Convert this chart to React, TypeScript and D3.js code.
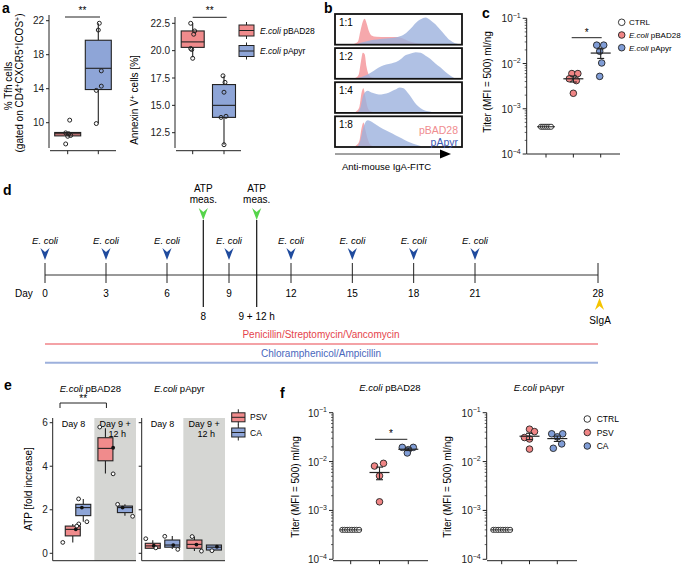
import React from 'react';
import * as d3 from 'd3';

const FONT = "'Liberation Sans', Arial, Helvetica, sans-serif";
const INK = '#222';
const RED_FILL = '#f08b8c';
const BLUE_FILL = '#8ea5d7';
const RED_DOT = '#f08585';
const BLUE_DOT = '#809dd6';
const HIST_RED = '#f59ea3';
const HIST_BLUE = '#9cb1dd';

// ---------------- panel a ----------------
const aGroups = ['E.coli pBAD28', 'E.coli pApyr'];
const aTfhTicks = [10, 14, 18, 22];
// [lo, q1, median, q3, hi]
const aTfhBox = [[8.45, 8.45, 8.7, 8.85, 8.85], [9.9, 13.9, 16.4, 19.7, 21.7]];
const aTfhPoints = [[10.3, 8.8, 8.7, 8.5, 8.4, 7.5], [21.7, 20.9, 16.1, 14.3, 13.8, 9.9]];
const aTfhJitter = [[2, -2, 1, 3, 0, -2], [1, 0, 3, 3, -2, -2]];
const aAnxTicks = [12.5, 15, 17.5, 20, 22.5];
const aAnxBox = [[19.4, 20.3, 20.8, 21.8, 22.5], [11.4, 13.9, 15.0, 16.9, 17.7]];
const aAnxPoints = [[22.5, 21.8, 21.5, 20.2, 20.1, 19.3], [17.7, 17.1, 16.2, 14.0, 13.9, 11.4]];
const aAnxJitter = [[-2, 2, 1, -2, -1, 0], [-1, 1, 0, 2, -3, 0]];

// ---------------- panel b ----------------
const bDilutions = ['1:1', '1:2', '1:4', '1:8'];
// [fluorescence (a.u.), relative count]
const bRed = [
  [[14, 0], [17, 0.08], [19, 0.45], [21, 0.8], [22.5, 0.9], [24, 0.75], [26, 0.45], [28, 0.3], [32, 0.25], [40, 0.24], [48, 0.24], [53, 0.2], [58, 0.1], [63, 0.03], [68, 0]],
  [[15, 0], [17.5, 0.1], [19.5, 0.6], [21, 0.9], [22.5, 0.85], [24, 0.4], [26, 0.1], [28, 0.02], [30, 0]],
  [[15, 0], [18, 0.15], [20, 0.7], [21.5, 0.85], [23, 0.55], [25, 0.15], [27, 0.03], [29, 0]],
  [[15, 0], [18, 0.15], [20, 0.65], [21.5, 0.85], [23, 0.6], [25, 0.25], [27, 0.05], [29, 0]],
];
const bBlue = [
  [[17, 0], [20, 0.04], [25, 0.1], [30, 0.14], [35, 0.17], [40, 0.19], [45, 0.21], [50, 0.25], [55, 0.35], [60, 0.55], [64, 0.75], [68, 0.88], [72, 0.95], [76, 0.85], [80, 0.7], [84, 0.5], [88, 0.3], [92, 0.12], [96, 0.02], [98, 0]],
  [[17, 0], [20, 0.03], [24, 0.1], [28, 0.2], [32, 0.32], [36, 0.42], [40, 0.48], [44, 0.52], [48, 0.57], [52, 0.68], [56, 0.82], [60, 0.88], [64, 0.92], [68, 0.9], [72, 0.8], [76, 0.68], [80, 0.52], [84, 0.38], [88, 0.22], [92, 0.08], [95, 0]],
  [[17, 0], [19, 0.15], [21, 0.55], [23, 0.72], [25, 0.76], [28, 0.7], [32, 0.65], [36, 0.63], [40, 0.66], [44, 0.74], [48, 0.82], [51, 0.88], [54, 0.85], [57, 0.72], [60, 0.55], [63, 0.35], [66, 0.2], [70, 0.08], [74, 0.02], [77, 0]],
  [[17, 0], [19, 0.2], [21, 0.6], [23, 0.85], [25, 0.93], [27, 0.9], [30, 0.82], [35, 0.68], [40, 0.56], [45, 0.45], [50, 0.33], [55, 0.22], [60, 0.12], [64, 0.05], [68, 0]],
];

// ---------------- panel c ----------------
const cGroups = ['CTRL', 'E.coli pBAD28', 'E.coli pApyr'];
const cCtrl = [4e-4, 4e-4, 4e-4, 4e-4, 4e-4, 4e-4];
const cRed = [6.0e-3, 6.0e-3, 4.6e-3, 4.2e-3, 2.2e-3];
const cRedJit = [-1.5, 4.5, -4, 3, 0];
const cBlue = [2.55e-2, 2.55e-2, 1.87e-2, 1.03e-2, 5.2e-3];
const cBlueJit = [-4, 3, -1, 1, -1];

// ---------------- panel d ----------------
const dDays = [0, 3, 6, 9, 12, 15, 18, 21, 28];
const dEcoliDays = [0, 3, 6, 9, 12, 15, 18, 21];
const dAtpDays = [8, 9.5];
const dAtpLabels = ['8', '9 + 12 h'];
const dSigaDay = 28;
const dTreatments = ['Penicillin/Streptomycin/Vancomycin', 'Chloramphenicol/Ampicillin'];

// ---------------- panel e ----------------
const eStrains = ['E.coli pBAD28', 'E.coli pApyr'];
const eDays = ['Day 8', 'Day 9 + 12 h'];
const eTreat = ['PSV', 'CA'];
const eTicks = [0, 2, 4, 6];
// order: Day8 PSV, Day8 CA, Day9 PSV, Day9 CA ; [lo,q1,med,q3,hi]
const eBoxPBAD = [[0.5, 0.8, 1.1, 1.25, 1.35], [1.45, 1.73, 2.1, 2.25, 2.5], [3.67, 4.25, 4.82, 5.31, 5.74], [1.72, 1.87, 2.1, 2.17, 2.25]];
const eBoxPApyr = [[0.23, 0.23, 0.34, 0.46, 0.6], [0.2, 0.28, 0.38, 0.61, 0.8], [0.1, 0.23, 0.41, 0.61, 0.77], [0.12, 0.15, 0.28, 0.38, 0.38]];
const ePtsPBAD = [[1.35, 1.25, 0.5], [2.5, 1.45], [5.8, 3.65], [2.25, 1.7]];
const eJitPBAD = [[6, 4, -10], [-4.7, 3.6], [-5.7, 7.7], [-7.3, 7.7]];
const eMeanPBAD = [1.1, 2.1, 4.85, 2.1];
const eMeanJitPBAD = [3, -1.4, 7.7, -2.3];
const ePtsPApyr = [[0.67, 0.25], [0.78, 0.18], [0.77, 0.1], [0.12]];
const eJitPApyr = [[-7, 3], [-7.5, 5.5], [-2.3, 7], [-2]];
const eMeanPApyr = [0.35, 0.38, 0.4, 0.3];
const eMeanJitPApyr = [1, 1, 2, 3];

// ---------------- panel f ----------------
const fGroups = ['CTRL', 'PSV', 'CA'];
const fTitles = ['E.coli pBAD28', 'E.coli pApyr'];
const fCtrl = [4e-4, 4e-4, 4e-4, 4e-4, 4e-4, 4e-4, 4e-4, 4e-4];
const fPsvLeft = [8.1e-3, 9.2e-3, 5.1e-3, 1.5e-3];
const fPsvLeftJit = [-5, 4, 0, 0];
const fCaLeft = [1.95e-2, 1.95e-2, 1.75e-2, 1.5e-2];
const fCaLeftJit = [-6, 5, 0, -1];
const fPsvRight = [4.6e-2, 4.1e-2, 3.1e-2, 2.9e-2, 1.8e-2];
const fPsvRightJit = [0, 5, -5, 0, 0];
const fCaRight = [3.7e-2, 3.7e-2, 3.2e-2, 2.3e-2, 1.87e-2];
const fCaRightJit = [-5.6, 5.4, 0, 4.4, -4];

// layout nudge (px) of individual boxes in panel e, as drawn in the original
const E_NUDGE = [[9, 0, 0, 0], [0, 0, 0, 0]];

// ---------------- helpers ----------------
function StrainText({ name, ...props }: any) {
  if (name.startsWith('E.coli')) {
    const rest = name.slice(6);
    return (
      <text {...props}>
        <tspan fontStyle="italic">E.coli</tspan>
        {rest}
      </text>
    );
  }
  return <text {...props}>{name}</text>;
}

function BoxGlyph({ cx, w, y, b, fill }: any) {
  const [lo, q1, med, q3, hi] = b;
  return (
    <g>
      <line x1={cx} x2={cx} y1={y(hi)} y2={y(q3)} stroke={INK} strokeWidth={1.1} />
      <line x1={cx} x2={cx} y1={y(q1)} y2={y(lo)} stroke={INK} strokeWidth={1.1} />
      <rect x={cx - w / 2} y={y(q3)} width={w} height={Math.max(1.5, y(q1) - y(q3))} fill={fill} stroke={INK} strokeWidth={1.1} />
      <line x1={cx - w / 2} x2={cx + w / 2} y1={y(med)} y2={y(med)} stroke={INK} strokeWidth={1.1} />
    </g>
  );
}

function LinAxisY({ x, y, ticks, y0, y1, labels = true, fmt = (d: number) => String(d) }: any) {
  return (
    <g>
      <line x1={x} x2={x} y1={y0} y2={y1} stroke={INK} strokeWidth={1} />
      {ticks.map((t: number) => (
        <g key={t}>
          <line x1={x - 3} x2={x} y1={y(t)} y2={y(t)} stroke={INK} strokeWidth={1} />
          {labels && (
            <text x={x - 5} y={y(t) + 3.5} textAnchor="end" fontSize={10} fill={INK}>
              {fmt(t)}
            </text>
          )}
        </g>
      ))}
    </g>
  );
}

function LogAxisY({ x, y }: any) {
  const majors = [1e-4, 1e-3, 1e-2, 1e-1];
  const minors: number[] = [];
  for (let k = -4; k <= -2; k++) for (let m = 2; m < 10; m++) minors.push(m * Math.pow(10, k));
  return (
    <g>
      <line x1={x} x2={x} y1={y(1e-1)} y2={y(1e-4)} stroke={INK} strokeWidth={1} />
      {minors.map((t, i) => (
        <line key={i} x1={x - 2} x2={x} y1={y(t)} y2={y(t)} stroke={INK} strokeWidth={0.7} />
      ))}
      {majors.map((t) => (
        <g key={t}>
          <line x1={x - 4} x2={x} y1={y(t)} y2={y(t)} stroke={INK} strokeWidth={1} />
          <text x={x - 6} y={y(t) + 4} textAnchor="end" fontSize={10} fill={INK}>
            10
            <tspan dy={-4.5} fontSize={7}>
              {'\u2212' + Math.round(-Math.log10(t))}
            </tspan>
          </text>
        </g>
      ))}
    </g>
  );
}

function XAxisTicks({ x0, x1, y, xs }: any) {
  return (
    <g>
      <line x1={x0} x2={x1} y1={y} y2={y} stroke={INK} strokeWidth={1} />
      {xs.map((v: number, i: number) => (
        <line key={i} x1={v} x2={v} y1={y} y2={y + 3.5} stroke={INK} strokeWidth={1} />
      ))}
    </g>
  );
}

function DotGroup({ cx, vals, offs, y, fill, r = 3.3, meanW = 10 }: any) {
  const m = d3.mean(vals) as number;
  const sd = vals.length > 1 ? (d3.deviation(vals) as number) : 0;
  const se = sd / Math.sqrt(vals.length);
  return (
    <g>
      {vals.map((v: number, i: number) => (
        <circle key={i} cx={cx + offs[i]} cy={y(v)} r={r} fill={fill} stroke={INK} strokeWidth={0.9} />
      ))}
      <line x1={cx - meanW} x2={cx + meanW} y1={y(m)} y2={y(m)} stroke={INK} strokeWidth={1.2} />
      {se > 0 && (
        <g stroke={INK} strokeWidth={1.1}>
          <line x1={cx} x2={cx} y1={y(m + se)} y2={y(m - se)} />
          <line x1={cx - 3.5} x2={cx + 3.5} y1={y(m + se)} y2={y(m + se)} />
          <line x1={cx - 3.5} x2={cx + 3.5} y1={y(m - se)} y2={y(m - se)} />
        </g>
      )}
    </g>
  );
}

function CtrlRow({ cx, vals, y, step, meanW }: any) {
  const n = vals.length;
  const m = d3.mean(vals) as number;
  return (
    <g>
      {vals.map((v: number, i: number) => (
        <circle key={i} cx={cx + (i - (n - 1) / 2) * step} cy={y(v)} r={2.6} fill="#fff" stroke={INK} strokeWidth={0.9} />
      ))}
      <line x1={cx - meanW} x2={cx + meanW} y1={y(m)} y2={y(m)} stroke={INK} strokeWidth={1} />
    </g>
  );
}

function PanelLabel({ x, y, t }: any) {
  return (
    <text x={x} y={y} fontSize={14} fontWeight="bold" fill="#000">
      {t}
    </text>
  );
}

// ---------------- panels ----------------
function PanelA() {
  const yT = d3.scaleLinear().domain([10, 22]).range([122.7, 20.7]);
  const xT = d3.scalePoint<string>().domain(aGroups).range([67.7, 98.3]);
  const yA = d3.scaleLinear().domain([12.5, 22.5]).range([132.7, 23.3]);
  const xA = d3.scalePoint<string>().domain(aGroups).range([192.7, 224]);
  const fills = [RED_FILL, BLUE_FILL];
  return (
    <g>
      <PanelLabel x={2} y={13} t="a" />
      {/* Tfh */}
      <LinAxisY x={49} y={yT} ticks={aTfhTicks} y0={15} y1={148} />
      <XAxisTicks x0={50} x1={116} y={150.7} xs={aGroups.map((g) => xT(g))} />
      {aGroups.map((g, i) => (
        <BoxGlyph key={g} cx={xT(g)} w={26} y={yT} b={aTfhBox[i]} fill={fills[i]} />
      ))}
      {aGroups.map((g, i) =>
        aTfhPoints[i].map((v, j) => (
          <circle key={g + j} cx={(xT(g) as number) + aTfhJitter[i][j]} cy={yT(v)} r={2} fill="none" stroke={INK} strokeWidth={1} />
        ))
      )}
      <line x1={65} x2={100} y1={17} y2={17} stroke={INK} />
      <text x={82.5} y={14} textAnchor="middle" fontSize={10}>**</text>
      <text transform="translate(12,86) rotate(-90)" textAnchor="middle" fontSize={10}>
        % Tfh cells
      </text>
      <text transform="translate(23,83) rotate(-90)" textAnchor="middle" fontSize={10}>
        (gated on CD4<tspan dy={-3.5} fontSize={7}>+</tspan>
        <tspan dy={3.5}>CXCR5</tspan>
        <tspan dy={-3.5} fontSize={7}>+</tspan>
        <tspan dy={3.5}>ICOS</tspan>
        <tspan dy={-3.5} fontSize={7}>+</tspan>
        <tspan dy={3.5}>)</tspan>
      </text>

      {/* Annexin */}
      <LinAxisY x={175} y={yA} ticks={aAnxTicks} y0={17} y1={148} fmt={(d: number) => d.toFixed(1)} />
      <XAxisTicks x0={176} x1={241} y={150.7} xs={aGroups.map((g) => xA(g))} />
      {aGroups.map((g, i) => (
        <BoxGlyph key={g} cx={xA(g)} w={23} y={yA} b={aAnxBox[i]} fill={fills[i]} />
      ))}
      {aGroups.map((g, i) =>
        aAnxPoints[i].map((v, j) => (
          <circle key={g + j} cx={(xA(g) as number) + aAnxJitter[i][j]} cy={yA(v)} r={2} fill="none" stroke={INK} strokeWidth={1} />
        ))
      )}
      <line x1={192.7} x2={226.7} y1={17.3} y2={17.3} stroke={INK} />
      <text x={209.7} y={14} textAnchor="middle" fontSize={10}>**</text>
      <text transform="translate(138,100) rotate(-90)" textAnchor="middle" fontSize={10}>
        Annexin V<tspan dy={-3.5} fontSize={7}>+</tspan>
        <tspan dy={3.5}> cells [%]</tspan>
      </text>

      {/* legend */}
      {aGroups.map((g, i) => {
        const cy = 30.5 + i * 20.5;
        return (
          <g key={g}>
            <line x1={246.5} x2={246.5} y1={cy - 8.5} y2={cy + 8.5} stroke={INK} />
            <rect x={239} y={cy - 5.5} width={15} height={11} fill={fills[i]} stroke={INK} strokeWidth={1} />
            <line x1={239} x2={254} y1={cy} y2={cy} stroke={INK} />
            <StrainText name={g} x={260} y={cy + 3} fontSize={8.5} />
          </g>
        );
      })}
    </g>
  );
}

function PanelB() {
  const x = d3.scaleLinear().domain([0, 100]).range([337, 460]);
  const band = d3.scaleBand<string>().domain(bDilutions).range([14, 147]).paddingInner(0.1);
  const bw = band.bandwidth();
  return (
    <g>
      <PanelLabel x={324} y={12.5} t="b" />
      <defs>
        {bDilutions.map((d, i) => (
          <clipPath key={d} id={'bclip' + i}>
            <rect x={335} y={band(d)} width={127} height={bw} />
          </clipPath>
        ))}
      </defs>
      {bDilutions.map((d, i) => {
        const top = band(d) as number;
        const yy = d3.scaleLinear().domain([0, 1]).range([top + bw - 1, top + 2]);
        const area = d3
          .area<number[]>()
          .x((p) => x(p[0]))
          .y0(top + bw)
          .y1((p) => yy(p[1]))
          .curve(d3.curveMonotoneX);
        return (
          <g key={d}>
            <g clipPath={`url(#bclip${i})`}>
              <path d={area(bRed[i]) as string} fill={HIST_RED} fillOpacity={0.9} />
              <path d={area(bBlue[i]) as string} fill={HIST_BLUE} fillOpacity={0.8} />
            </g>
            <rect x={335} y={top} width={127} height={bw} fill="none" stroke="#111" strokeWidth={1.8} />
            <text x={339} y={top + 12} fontSize={10}>{d}</text>
          </g>
        );
      })}
      <text x={458} y={134} textAnchor="end" fontSize={10.5} fill="#f08c8f">pBAD28</text>
      <text x={458} y={145.5} textAnchor="end" fontSize={10.5} fill="#3d59b3">pApyr</text>
      <line x1={335} x2={442} y1={154} y2={154} stroke="#444" strokeWidth={1} />
      <path d="M440,149.5 L451,154 L440,158.5 Z" fill="#000" />
      <text x={342} y={170} fontSize={9.5}>Anti-mouse IgA-FITC</text>
    </g>
  );
}

function PanelC() {
  const y = d3.scaleLog().domain([1e-4, 1e-1]).range([154, 18.3]);
  const x = d3.scalePoint<string>().domain(cGroups).range([546, 600.7]);
  const legendFill = ['#fff', RED_DOT, BLUE_DOT];
  return (
    <g>
      <PanelLabel x={482} y={18} t="c" />
      <LogAxisY x={526.7} y={y} />
      <XAxisTicks x0={527} x1={620} y={154} xs={cGroups.map((g) => x(g))} />
      <CtrlRow cx={x('CTRL')} vals={cCtrl} y={y} step={2} meanW={9} />
      <DotGroup cx={x(cGroups[1])} vals={cRed} offs={cRedJit} y={y} fill={RED_DOT} />
      <DotGroup cx={x(cGroups[2])} vals={cBlue} offs={cBlueJit} y={y} fill={BLUE_DOT} />
      <line x1={571.7} x2={601.7} y1={37.7} y2={37.7} stroke={INK} />
      <text x={586.7} y={35.5} textAnchor="middle" fontSize={10}>*</text>
      <text transform="translate(491,82) rotate(-90)" textAnchor="middle" fontSize={10}>
        Titer (MFI = 500) ml/ng
      </text>
      {cGroups.map((g, i) => (
        <g key={g}>
          <circle cx={621.7} cy={22.3 + i * 12.7} r={3.3} fill={legendFill[i]} stroke={INK} strokeWidth={0.9} />
          <StrainText name={g} x={629} y={22.3 + i * 12.7 + 3} fontSize={8} />
        </g>
      ))}
    </g>
  );
}

function Chevron({ x, y, fill, up = false }: any) {
  // tip at (x, y); height 12
  const d = up
    ? `M${x},${y} L${x + 4.6},${y + 12} L${x},${y + 8} L${x - 4.6},${y + 12} Z`
    : `M${x},${y} L${x + 4.6},${y - 12} L${x},${y - 8} L${x - 4.6},${y - 12} Z`;
  return <path d={d} fill={fill} />;
}

function PanelD() {
  const x = d3
    .scaleLinear()
    .domain([0, 6, 8, 9, 9.5, 12, 21, 28])
    .range([45, 167, 203.3, 229, 256.7, 291, 475, 598]);
  const lineY = 275;
  const trColors = ['#e5434b', '#4a68bd'];
  const lineColors = ['#f4a2a6', '#9db0dc'];
  return (
    <g>
      <PanelLabel x={3} y={195} t="d" />
      <line x1={x(0)} x2={x(28)} y1={lineY} y2={lineY} stroke="#333" strokeWidth={1} />
      {dDays.map((d) => (
        <g key={d}>
          <line x1={x(d)} x2={x(d)} y1={263} y2={283} stroke="#222" strokeWidth={1} />
          <text x={x(d)} y={297} textAnchor="middle" fontSize={10}>{d}</text>
        </g>
      ))}
      <text x={15} y={297} fontSize={10}>Day</text>
      {dEcoliDays.map((d) => (
        <g key={d}>
          <text x={x(d)} y={243.5} textAnchor="middle" fontSize={9.5} fontStyle="italic">E. coli</text>
          <Chevron x={x(d)} y={260} fill="#1f4b9e" />
        </g>
      ))}
      {dAtpDays.map((d, i) => (
        <g key={d}>
          <line x1={x(d)} x2={x(d)} y1={220} y2={307} stroke="#111" strokeWidth={1.2} />
          <Chevron x={x(d)} y={220} fill="#55d44a" />
          <text x={x(d)} y={191.5} textAnchor="middle" fontSize={10}>ATP</text>
          <text x={x(d)} y={203.3} textAnchor="middle" fontSize={10}>meas.</text>
          <text x={x(d)} y={320} textAnchor="middle" fontSize={10}>{dAtpLabels[i]}</text>
        </g>
      ))}
      <Chevron x={x(dSigaDay) + 1.5} y={298} fill="#f5c400" up />
      <text x={x(dSigaDay) + 2} y={324} textAnchor="middle" fontSize={10}>SIgA</text>
      {dTreatments.map((t, i) => (
        <g key={t}>
          <text x={321} y={338.3 + i * 19} textAnchor="middle" fontSize={10} fill={trColors[i]}>{t}</text>
          <line x1={x(0)} x2={x(28)} y1={344 + i * 18.7} y2={344 + i * 18.7} stroke={lineColors[i]} strokeWidth={2} />
        </g>
      ))}
    </g>
  );
}

function PanelE() {
  const y = d3.scaleLinear().domain([0, 6]).range([553.3, 422.7]);
  const sx = d3.scaleBand<string>().domain(eStrains).range([52.7, 225]).paddingInner(0.064);
  const bw = sx.bandwidth();
  const dx = d3.scaleBand<string>().domain(eDays).range([0, bw]);
  const tx = d3.scalePoint<string>().domain(eTreat).range([-9.75, 9.75]);
  const top = 418;
  const bottom = 560.7;
  const boxes = [eBoxPBAD, eBoxPApyr];
  const pts = [ePtsPBAD, ePtsPApyr];
  const jit = [eJitPBAD, eJitPApyr];
  const means = [eMeanPBAD, eMeanPApyr];
  const meanJit = [eMeanJitPBAD, eMeanJitPApyr];
  const fills = [RED_FILL, BLUE_FILL];
  const cx = (s: string, d: string, t: string) =>
    (sx(s) as number) + (dx(d) as number) + dx.bandwidth() / 2 + (tx(t) as number);
  return (
    <g>
      <PanelLabel x={4} y={390} t="e" />
      {eStrains.map((s, si) => {
        const x0 = sx(s) as number;
        return (
          <g key={s}>
            <rect x={x0 + (dx(eDays[1]) as number)} y={top} width={dx.bandwidth()} height={bottom - top} fill="#d5d6d3" />
            <LinAxisY x={x0} y={y} ticks={eTicks} y0={top} y1={bottom} labels={si === 0} />
            <line x1={x0} x2={x0 + bw} y1={bottom} y2={bottom} stroke={INK} />
            <StrainText name={s} x={x0 + bw / 2 - 4} y={391.5} textAnchor="middle" fontSize={9.5} />
            <text x={x0 + (dx(eDays[0]) as number) + dx.bandwidth() / 2} y={427.3} textAnchor="middle" fontSize={9}>Day 8</text>
            <text x={x0 + (dx(eDays[1]) as number) + dx.bandwidth() / 2} y={427.3} textAnchor="middle" fontSize={9}>Day 9 +</text>
            <text x={x0 + (dx(eDays[1]) as number) + dx.bandwidth() / 2 + 2} y={437} textAnchor="middle" fontSize={9}>12 h</text>
            {eDays.map((d, di) =>
              eTreat.map((t, ti) => {
                const k = di * 2 + ti;
                const c = cx(s, d, t) + E_NUDGE[si][k];
                return (
                  <g key={d + t}>
                    <BoxGlyph cx={c} w={15} y={y} b={boxes[si][k]} fill={fills[ti]} />
                    {pts[si][k].map((v: number, j: number) => (
                      <circle key={j} cx={c + jit[si][k][j]} cy={y(v)} r={1.9} fill="#fff" stroke={INK} strokeWidth={1} />
                    ))}
                    <circle cx={c + meanJit[si][k]} cy={y(means[si][k])} r={1.9} fill="#111" />
                  </g>
                );
              })
            )}
          </g>
        );
      })}
      {/* significance bracket */}
      {(() => {
        const a = 60;
        const b = cx(eStrains[0], eDays[1], 'PSV') + 1;
        return (
          <g>
            <path d={`M${a},408 L${a},403 L${b},403 L${b},408`} fill="none" stroke={INK} />
            <text x={(a + b) / 2} y={401.5} textAnchor="middle" fontSize={10}>**</text>
          </g>
        );
      })()}
      <text transform="translate(31.5,489) rotate(-90)" textAnchor="middle" fontSize={10}>
        ATP [fold increase]
      </text>
      {eTreat.map((t, i) => {
        const cy = 417.3 + i * 15.2;
        return (
          <g key={t}>
            <line x1={238.3} x2={238.3} y1={cy - 8} y2={cy + 8} stroke={INK} />
            <rect x={231.7} y={cy - 4.5} width={13.3} height={9} fill={fills[i]} stroke={INK} />
            <line x1={231.7} x2={245} y1={cy} y2={cy} stroke={INK} />
            <text x={250} y={cy + 3} fontSize={8.5}>{t}</text>
          </g>
        );
      })}
    </g>
  );
}

function PanelF() {
  const y = d3.scaleLog().domain([1e-4, 1e-1]).range([559.3, 412.7]);
  const xL = d3.scalePoint<string>().domain(fGroups).range([350.7, 408.3]);
  const xR = d3.scalePoint<string>().domain(fGroups).range([501.7, 557.3]);
  const legendFill = ['#fff', RED_DOT, BLUE_DOT];
  return (
    <g>
      <PanelLabel x={280} y={398} t="f" />
      {/* left */}
      <LogAxisY x={333} y={y} />
      <XAxisTicks x0={333} x1={428} y={560.7} xs={fGroups.map((g) => xL(g))} />
      <CtrlRow cx={xL('CTRL')} vals={fCtrl} y={y} step={2.4} meanW={11} />
      <DotGroup cx={xL('PSV')} vals={fPsvLeft} offs={fPsvLeftJit} y={y} fill={RED_DOT} />
      <DotGroup cx={xL('CA')} vals={fCaLeft} offs={fCaLeftJit} y={y} fill={BLUE_DOT} />
      <line x1={375} x2={407.3} y1={439.3} y2={439.3} stroke={INK} />
      <text x={391} y={437} textAnchor="middle" fontSize={10}>*</text>
      <text transform="translate(299,487) rotate(-90)" textAnchor="middle" fontSize={10}>
        Titer (MFI = 500) ml/ng
      </text>
      <StrainText name={fTitles[0]} x={390} y={391} textAnchor="middle" fontSize={9.5} />
      {/* right */}
      <LogAxisY x={486.7} y={y} />
      <XAxisTicks x0={487} x1={577} y={560.7} xs={fGroups.map((g) => xR(g))} />
      <CtrlRow cx={xR('CTRL')} vals={fCtrl} y={y} step={2.4} meanW={11} />
      <DotGroup cx={xR('PSV')} vals={fPsvRight} offs={fPsvRightJit} y={y} fill={RED_DOT} />
      <DotGroup cx={xR('CA')} vals={fCaRight} offs={fCaRightJit} y={y} fill={BLUE_DOT} />
      <text transform="translate(450.5,487) rotate(-90)" textAnchor="middle" fontSize={10}>
        Titer (MFI = 500) ml/ng
      </text>
      <StrainText name={fTitles[1]} x={539} y={391} textAnchor="middle" fontSize={9.5} />
      {fGroups.map((g, i) => (
        <g key={g}>
          <circle cx={587.3} cy={419 + i * 13.5} r={3.3} fill={legendFill[i]} stroke={INK} strokeWidth={0.9} />
          <text x={596.7} y={419 + i * 13.5 + 3} fontSize={8.5}>{g}</text>
        </g>
      ))}
    </g>
  );
}

export default function App() {
  return (
    <svg
      width={685}
      height={567}
      style={{ position: 'absolute', left: 0, top: 0, background: '#fff' }}
      fontFamily={FONT}
    >
      <rect width={685} height={567} fill="#fff" />
      <PanelA />
      <PanelB />
      <PanelC />
      <PanelD />
      <PanelE />
      <PanelF />
    </svg>
  );
}
